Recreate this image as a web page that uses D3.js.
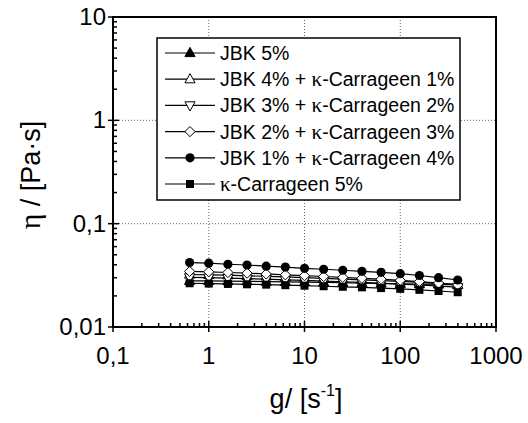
<!DOCTYPE html>
<html><head><meta charset="utf-8">
<script src="https://cdn.jsdelivr.net/npm/d3@7"></script>
<style>body{margin:0;background:#fff}svg{display:block}text{font-family:Arial,"Liberation Sans",sans-serif;fill:#000}</style>
</head><body><svg id="c" width="528" height="423"></svg>
<script>
const shearRates = [0.631,1,1.585,2.512,3.981,6.31,10,15.85,25.12,39.81,63.1,100,158.5,251.2,398.1];
const seriesNames = ["JBK 5%","JBK 4% + κ-Carrageen 1%","JBK 3% + κ-Carrageen 2%","JBK 2% + κ-Carrageen 3%","JBK 1% + κ-Carrageen 4%","κ-Carrageen 5%"];
const jbk5 = [0.0280,0.0279,0.0278,0.0277,0.0275,0.0273,0.0272,0.0270,0.0268,0.0266,0.0264,0.0262,0.0260,0.0258,0.0256];
const jbk4k1 = [0.0322,0.0320,0.0317,0.0313,0.0309,0.0305,0.0300,0.0296,0.0291,0.0286,0.0281,0.0276,0.0270,0.0264,0.0258];
const jbk3k2 = [0.0302,0.0300,0.0297,0.0294,0.0290,0.0286,0.0282,0.0278,0.0274,0.0270,0.0265,0.0260,0.0255,0.0249,0.0243];
const jbk2k3 = [0.0345,0.0342,0.0337,0.0332,0.0326,0.0320,0.0314,0.0308,0.0302,0.0296,0.0290,0.0283,0.0275,0.0266,0.0255];
const jbk1k4 = [0.0420,0.0415,0.0405,0.0398,0.0388,0.0380,0.0370,0.0362,0.0354,0.0346,0.0338,0.0328,0.0315,0.0300,0.0285];
const kc5 = [0.0265,0.0263,0.0261,0.0259,0.0257,0.0254,0.0251,0.0248,0.0245,0.0242,0.0238,0.0234,0.0229,0.0223,0.0217];
const seriesValues = [jbk5,jbk4k1,jbk3k2,jbk2k3,jbk1k4,kc5];
const markers = ["triUpFill","triUpOpen","triDownOpen","diamondOpen","circleFill","squareFill"];
const xTicks = [0.1,1,10,100,1000];
const xTickLabels = ["0,1","1","10","100","1000"];
const yTicks = [0.01,0.1,1,10];
const yTickLabels = ["0,01","0,1","1","10"];

const svg = d3.select("#c");
const L=113, R=496, T=17, B=327;
const x = d3.scaleLog().domain([0.1,1000]).range([L,R]);
const y = d3.scaleLog().domain([0.01,10]).range([B,T]);

// grid
const g = svg.append("g");
[1,10,100].forEach(v=>g.append("line").attr("x1",x(v)).attr("x2",x(v)).attr("y1",T).attr("y2",B)
  .attr("stroke","#666").attr("stroke-width",1).attr("stroke-dasharray","1,2"));
[1,0.1].forEach(v=>g.append("line").attr("x1",L).attr("x2",R).attr("y1",y(v)).attr("y2",y(v))
  .attr("stroke","#666").attr("stroke-width",1).attr("stroke-dasharray","1,2"));

// minor ticks
const minor = [];
for (let d=0.1; d<1000; d*=10) for (let k=2;k<=9;k++) minor.push(d*k);
minor.forEach(v=>svg.append("line").attr("x1",x(v)).attr("x2",x(v)).attr("y1",B).attr("y2",B-4).attr("stroke","#000").attr("stroke-width",1.5));
const yminor=[];
for (let d=0.01; d<10; d*=10) for (let k=2;k<=9;k++) yminor.push(d*k);
yminor.forEach(v=>svg.append("line").attr("x1",L).attr("x2",L+4).attr("y1",y(v)).attr("y2",y(v)).attr("stroke","#000").attr("stroke-width",1.5));
xTicks.forEach(v=>svg.append("line").attr("x1",x(v)).attr("x2",x(v)).attr("y1",B+5).attr("y2",B-6).attr("stroke","#000").attr("stroke-width",1.5));
yTicks.forEach(v=>svg.append("line").attr("x1",L-5).attr("x2",L+6).attr("y1",y(v)).attr("y2",y(v)).attr("stroke","#000").attr("stroke-width",1.5));

// frame
svg.append("rect").attr("x",L).attr("y",T).attr("width",R-L).attr("height",B-T).attr("fill","none").attr("stroke","#000").attr("stroke-width",2);

// tick labels
xTicks.forEach((v,i)=>svg.append("text").attr("x",x(v)).attr("y",364).attr("text-anchor","middle").attr("font-size",24).text(xTickLabels[i]));
yTicks.forEach((v,i)=>svg.append("text").attr("x",L-7).attr("y",y(v)+8).attr("text-anchor","end").attr("font-size",24).text(yTickLabels[i]));

// axis titles
const xt = svg.append("text").attr("x",306).attr("y",408).attr("text-anchor","middle").attr("font-size",27);
xt.append("tspan").text("g/ [s");
xt.append("tspan").attr("font-size",16).attr("dy",-12).text("-1");
xt.append("tspan").attr("dy",12).text("]");
const yt = svg.append("text").attr("transform","translate(40,175) rotate(-90)").attr("text-anchor","middle").attr("font-size",27);
yt.append("tspan").attr("font-family","'Liberation Serif','DejaVu Serif',serif").attr("font-size",30).text("η");
yt.append("tspan").text(" / [Pa·s]");

function drawMarker(sel, type, cx, cy){
  const s=4.6;
  if (type.startsWith("tri")) {
    const up = type.startsWith("triUp");
    const pts = up ? [[cx,cy-s-1],[cx-s-0.5,cy+s-1],[cx+s+0.5,cy+s-1]] : [[cx,cy+s+1],[cx-s-0.5,cy-s+1],[cx+s+0.5,cy-s+1]];
    sel.append("polygon").attr("points",pts.map(p=>p.join(",")).join(" "))
      .attr("fill",type.endsWith("Fill")?"#000":"#fff").attr("stroke","#000").attr("stroke-width",1);
  } else if (type==="diamondOpen") {
    sel.append("polygon").attr("points",[[cx,cy-s-0.5],[cx+s+0.5,cy],[cx,cy+s+0.5],[cx-s-0.5,cy]].map(p=>p.join(",")).join(" "))
      .attr("fill","#fff").attr("stroke","#000").attr("stroke-width",1);
  } else if (type==="circleFill") {
    sel.append("circle").attr("cx",cx).attr("cy",cy).attr("r",4.6).attr("fill","#000");
  } else {
    sel.append("rect").attr("x",cx-4).attr("y",cy-4).attr("width",8).attr("height",8).attr("fill","#000");
  }
}

// series
const line = d3.line().x((d,i)=>x(shearRates[i])).y(d=>y(d));
seriesValues.forEach((vals,k)=>{
  const sg = svg.append("g");
  sg.append("path").attr("d",line(vals)).attr("fill","none").attr("stroke","#000").attr("stroke-width",1.2);
  vals.forEach((v,i)=>drawMarker(sg,markers[k],x(shearRates[i]),y(v)));
});

// legend
const lg = svg.append("g");
lg.append("rect").attr("x",157).attr("y",38).attr("width",303).attr("height",162).attr("fill","#fff").attr("stroke","#000").attr("stroke-width",1.5);
seriesNames.forEach((n,k)=>{
  const yy = 53 + k*26.2;
  lg.append("line").attr("x1",165).attr("x2",215).attr("y1",yy).attr("y2",yy).attr("stroke","#000").attr("stroke-width",1.2);
  drawMarker(lg,markers[k],190,yy);
  const t = lg.append("text").attr("x",220).attr("y",yy+7).attr("font-size",19.5);
  n.split(/(κ)/).forEach(part=>{
    if (!part) return;
    const ts = t.append("tspan").text(part);
    if (part==="κ") ts.attr("font-family","'Liberation Serif','DejaVu Serif',serif").attr("font-size",21);
  });
});
</script></body></html>
